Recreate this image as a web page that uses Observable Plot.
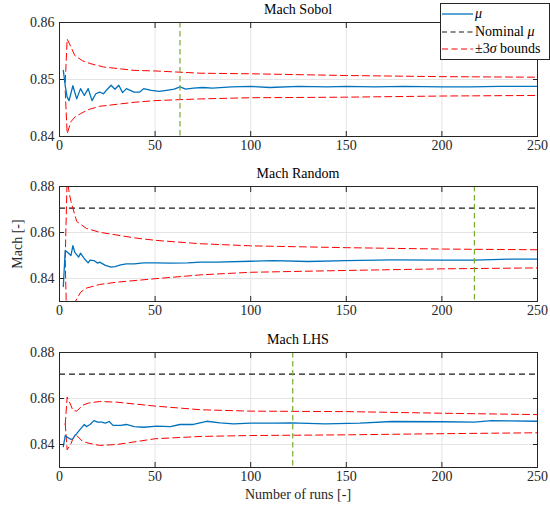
<!DOCTYPE html>
<html><head><meta charset="utf-8">
<script src="https://cdn.jsdelivr.net/npm/d3@7"></script>
<script src="https://cdn.jsdelivr.net/npm/@observablehq/plot@0.6"></script>
<style>
body{margin:0;background:#fff;}
#root, #root *{font-family:"Liberation Serif",serif !important;}
#root{position:relative;width:550px;height:512px;overflow:hidden;background:#fff;}
.panel{position:absolute;left:0;}
.title{position:absolute;left:59px;width:478px;text-align:center;font-size:14px;line-height:14px;color:#000;}
.xlabel{position:absolute;left:59px;width:478px;text-align:center;font-size:14px;line-height:14px;top:488px;color:#262626;}
.ylabel{position:absolute;top:244px;font-size:14px;line-height:14px;color:#262626;transform:translate(-50%,-50%) rotate(-90deg);transform-origin:center;white-space:nowrap;left:18px;}
#legend{position:absolute;left:440px;top:3px;width:108px;height:55px;border:1px solid #262626;background:#fff;z-index:10;}
#legend .row{position:absolute;left:0;height:16px;display:flex;align-items:center;font-size:14px;color:#000;white-space:nowrap;}
#legend svg{width:32px;height:10px;margin-right:1px;}
</style></head><body>
<div id="root"></div>
<script>
// ---------- data ----------
const runTicks = [0, 50, 100, 150, 200, 250];
const nominalMu = 0.8706;

// Sobol
const sobolMuN = [2,3,4,5,7,9,11,13,15,17,19,21,23,25,27,29,31,33,35,37,39,42,44,48,52,56,60,63,66,70,75,80,90,100,110,125,140,150,165,180,200,215,230,250];
const sobolMu  = [0.8516,0.8489,0.8469,0.8463,0.8489,0.8466,0.8484,0.8472,0.8484,0.8463,0.8475,0.8478,0.8475,0.8483,0.8490,0.8483,0.8490,0.8477,0.8484,0.8481,0.8478,0.8478,0.8484,0.8481,0.8479,0.8481,0.8483,0.8487,0.8483,0.8485,0.8486,0.8485,0.8487,0.8488,0.8486,0.8488,0.8487,0.8488,0.8487,0.8488,0.8487,0.8487,0.8488,0.8488];
const sobolUpN = [3,4,6,8,12,16,23,39,50,74,100,150,200,250];
const sobolUp  = [0.8495,0.8571,0.8557,0.8542,0.8533,0.8528,0.8522,0.8516,0.8515,0.8511,0.8510,0.8507,0.8505,0.8504];
const sobolLoN = [3,4,6,8,11,15,21,39,50,74,100,150,200,250];
const sobolLo  = [0.8480,0.8405,0.8426,0.8434,0.8440,0.8447,0.8453,0.8460,0.8463,0.8466,0.8468,0.8469,0.8471,0.8472];
const sobolConv = 63;

// Random
const randMuN = [2,3,4,6,7,8,10,11,13,15,16,18,20,21,24,27,29,32,35,39,44,50,58,67,74,82,100,112,130,150,174,200,217,235,250];
const randMu  = [0.8365,0.8522,0.8515,0.8500,0.8543,0.8514,0.8493,0.8510,0.8486,0.8468,0.8480,0.8478,0.8467,0.8471,0.8457,0.8449,0.8452,0.8459,0.8464,0.8464,0.8468,0.8468,0.8467,0.8468,0.8471,0.8471,0.8475,0.8478,0.8474,0.8478,0.8481,0.8480,0.8480,0.8484,0.8484];
const randUpN = [3,4,5,6,9,14,21,39,50,74,100,150,200,250];
const randUp  = [0.8490,0.8840,0.8775,0.8735,0.8648,0.8618,0.8601,0.8577,0.8566,0.8551,0.8542,0.8534,0.8528,0.8525];
const randLoN = [3,4,5,6,8,11,14,21,30,50,74,100,150,200,250];
const randLo  = [0.8480,0.8120,0.8190,0.8240,0.8295,0.8340,0.8358,0.8374,0.8384,0.8399,0.8416,0.8427,0.8435,0.8442,0.8446];
const randConv = 217;

// LHS
const lhsMuN = [2,3,4,6,7,8,9,11,13,14,16,18,20,22,24,26,28,32,35,39,44,51,58,63,70,77,84,91,100,112,121,139,157,174,200,217,226,250];
const lhsMu  = [0.8391,0.8439,0.8432,0.8422,0.8425,0.8439,0.8447,0.8468,0.8487,0.8478,0.8487,0.8504,0.8497,0.8497,0.8493,0.8500,0.8483,0.8483,0.8487,0.8478,0.8475,0.8480,0.8478,0.8487,0.8487,0.8501,0.8494,0.8490,0.8493,0.8493,0.8494,0.8490,0.8493,0.8500,0.8499,0.8497,0.8504,0.8501];
const lhsUpN = [3,4,6,7,9,12,15,21,30,50,74,100,150,200,250];
const lhsUp  = [0.8487,0.8606,0.8570,0.8548,0.8545,0.8570,0.8580,0.8587,0.8584,0.8567,0.8551,0.8545,0.8543,0.8536,0.8530];
const lhsLoN = [3,4,6,7,9,12,15,21,30,50,74,100,150,200,250];
const lhsLo  = [0.8490,0.8377,0.8403,0.8425,0.8439,0.8414,0.8406,0.8396,0.8400,0.8425,0.8435,0.8439,0.8442,0.8447,0.8451];
const lhsConv = 122;

// ---------- drawing ----------
const root = document.getElementById("root");
const fmt2 = d3.format(".2f");
const series = (ns, vs) => ns.map((n, i) => ({n, v: vs[i]}));
const FONT = "'Liberation Serif', serif";
const RED_DASH = "7,4", BLACK_DASH = "6,4", GREEN_DASH = "5.5,3.5";

function panel(cfg) {
  const marks = [
    Plot.gridX(runTicks, {stroke: "#e4e4e4", strokeOpacity: 1}),
    Plot.gridY(cfg.yTicks, {stroke: "#e4e4e4", strokeOpacity: 1})
  ];
  if (cfg.showNominal) marks.push(Plot.ruleY([nominalMu], {stroke: "#1a1a1a", strokeWidth: 1.2, strokeDasharray: BLACK_DASH}));
  marks.push(
    Plot.line(series(cfg.upN, cfg.up), {x: "n", y: "v", stroke: "#ff0000", strokeWidth: 1, strokeDasharray: RED_DASH, clip: true}),
    Plot.line(series(cfg.loN, cfg.lo), {x: "n", y: "v", stroke: "#ff0000", strokeWidth: 1, strokeDasharray: RED_DASH, clip: true}),
    Plot.line(series(cfg.muN, cfg.mu), {x: "n", y: "v", stroke: "#0072bd", strokeWidth: 1.3, clip: true}),
    Plot.ruleX([cfg.conv], {stroke: "#77ac30", strokeWidth: 1.2, strokeDasharray: GREEN_DASH}),
    Plot.axisX(runTicks, {anchor: "bottom", label: null, tickSize: 0, tickPadding: 4, tickFormat: d => String(d), fill: "#262626", fontSize: 14, fontFamily: FONT}),
    Plot.axisX(runTicks, {anchor: "bottom", label: null, tickSize: -5, tickFormat: () => "", stroke: "#262626"}),
    Plot.axisX(runTicks, {anchor: "top", label: null, tickSize: -5, tickFormat: () => "", stroke: "#262626"}),
    Plot.axisY(cfg.yTicks, {anchor: "left", label: null, tickSize: 0, tickPadding: 5, tickFormat: fmt2, fill: "#262626", fontSize: 14, fontFamily: FONT}),
    Plot.axisY(cfg.yTicks, {anchor: "left", label: null, tickSize: -5, tickFormat: () => "", stroke: "#262626"}),
    Plot.axisY(cfg.yTicks, {anchor: "right", label: null, tickSize: -5, tickFormat: () => "", stroke: "#262626"}),
    Plot.frame({stroke: "#262626", strokeWidth: 1})
  );
  const svg = Plot.plot({
    width: 550, height: cfg.height,
    marginLeft: 59, marginRight: 13, marginTop: 22, marginBottom: cfg.height - 22 - cfg.plotH,
    x: {domain: [0, 250], label: null},
    y: {domain: cfg.yDomain, label: null},
    style: {fontFamily: FONT, fontSize: "14px", background: "transparent", color: "#262626"},
    marks
  });
  svg.classList.add("panel");
  svg.style.top = cfg.top + "px";
  root.appendChild(svg);
  const t = document.createElement("div");
  t.className = "title";
  t.textContent = cfg.title;
  t.style.top = (cfg.top + 3) + "px";
  root.appendChild(t);
}

panel({title: "Mach Sobol", top: 0, height: 162, plotH: 114, yDomain: [0.84, 0.86], yTicks: [0.84, 0.85, 0.86],
  muN: sobolMuN, mu: sobolMu, upN: sobolUpN, up: sobolUp, loN: sobolLoN, lo: sobolLo, conv: sobolConv, showNominal: false});
panel({title: "Mach Random", top: 164, height: 162, plotH: 115, yDomain: [0.83, 0.88], yTicks: [0.84, 0.86, 0.88],
  muN: randMuN, mu: randMu, upN: randUpN, up: randUp, loN: randLoN, lo: randLo, conv: randConv, showNominal: true});
panel({title: "Mach LHS", top: 330, height: 162, plotH: 115, yDomain: [0.83, 0.88], yTicks: [0.84, 0.86, 0.88],
  muN: lhsMuN, mu: lhsMu, upN: lhsUpN, up: lhsUp, loN: lhsLoN, lo: lhsLo, conv: lhsConv, showNominal: true});

const xl = document.createElement("div");
xl.className = "xlabel"; xl.textContent = "Number of runs [-]";
root.appendChild(xl);
const yl = document.createElement("div");
yl.className = "ylabel"; yl.textContent = "Mach [-]";
root.appendChild(yl);

// legend
const legendItems = [
  {html: "<i>μ</i>", stroke: "#0072bd", dash: null, w: 1.3},
  {html: "Nominal <i>μ</i>", stroke: "#1a1a1a", dash: "5,3.5", w: 1.2},
  {html: "±3<i>σ</i> bounds", stroke: "#ff0000", dash: "6,3.5", w: 1}
];
const lg = document.createElement("div");
lg.id = "legend";
legendItems.forEach((it, i) => {
  const r = document.createElement("div");
  r.className = "row";
  r.style.top = (2 + i * 17.5) + "px";
  r.style.left = "1px";
  r.innerHTML = `<svg viewBox="0 0 32 10"><line x1="0" x2="31" y1="5" y2="5" stroke="${it.stroke}" stroke-width="${it.w}" ${it.dash ? `stroke-dasharray="${it.dash}"` : ""}/></svg><span>${it.html}</span>`;
  lg.appendChild(r);
});
root.appendChild(lg);
</script>
</body></html>
